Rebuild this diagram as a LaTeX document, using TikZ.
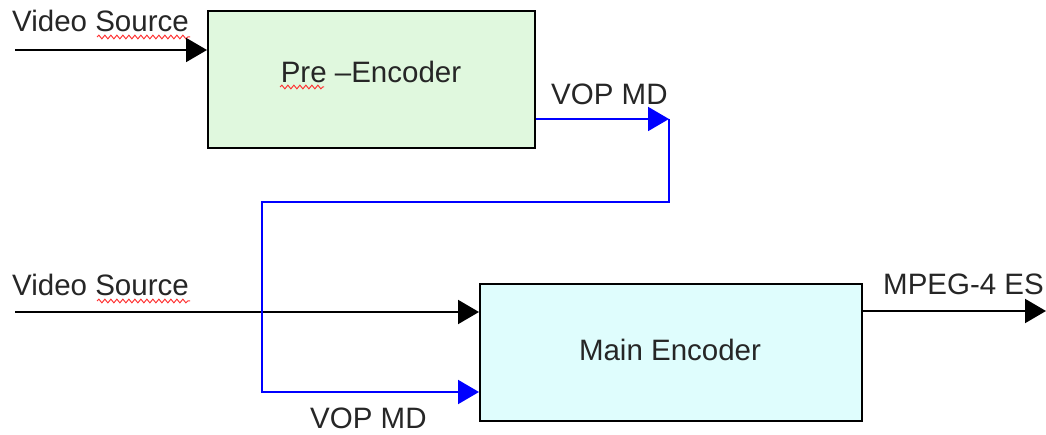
\documentclass[tikz,border=0pt]{standalone}
\usepackage{fontspec}
\setmainfont{Liberation Sans}
\usetikzlibrary{arrows.meta,decorations.pathmorphing}
\definecolor{pregreen}{HTML}{E0F8DE}
\definecolor{maincyan}{HTML}{DFFDFD}
\definecolor{vopblue}{HTML}{0000FF}
\tikzset{
  blockbox/.style={draw=black, line width=2pt, inner sep=0pt, anchor=north west},
  lbl/.style={inner sep=0pt, anchor=base west, font=\fontsize{29.5}{35}\selectfont, text=black!85},
  sigline/.style={line width=2pt, -{Triangle[length=21pt,width=24pt]}},
  vopline/.style={line width=2pt, draw=vopblue},
  voparrow/.style={vopline, -{Triangle[length=21pt,width=24pt]}, vopblue},
  squiggle/.style={draw=red!80, line width=1pt, decorate, decoration={snake, amplitude=1.8pt, segment length=6pt}}
}
\begin{document}
\begin{tikzpicture}[x=1pt,y=-1pt]
\useasboundingbox (0,0) rectangle (1046,435);
% boxes
\node[blockbox, fill=pregreen, minimum width=327pt, minimum height=137pt] (pre) at (207,10) {};
\node[blockbox, fill=maincyan, minimum width=382pt, minimum height=137pt] (main) at (479,283) {};
\node[lbl, anchor=base] (pretext) at (371,83) {Pre –Encoder};
\node[lbl, anchor=base] (maintext) at (670,360) {Main Encoder};
% labels
\node[lbl] (vs1) at (12,32) {Video Source};
\node[lbl] (vs2) at (12,296) {Video Source};
\node[lbl] (vop1) at (551,105) {VOP MD};
\node[lbl] (vop2) at (310,428) {VOP MD};
\node[lbl] (mpeg) at (883,295) {MPEG-4 ES};
% spell-check squiggles
\draw[squiggle] (97,37) -- (190,37);
\draw[squiggle] (97,301) -- (190,301);
\draw[squiggle] (280,87) -- (324,87);
% coordinates
\coordinate (in1) at (15,50);
\coordinate (in2) at (15,312);
\coordinate (out) at (1046,311);
\coordinate (vopend) at (669,119);
\coordinate (c1) at (669,202);
\coordinate (c2) at (262,202);
\coordinate (c3) at (262,392);
% connectors
\draw[sigline] (in1) -- (in1 -| pre.west);
\draw[sigline] (in2) -- (in2 -| main.west);
\draw[sigline] (out -| main.east) -- (out);
\draw[voparrow] (vopend -| pre.east) -- (vopend);
\draw[voparrow, line join=miter] (vopend) -- (c1) -- (c2) -- (c3) -- (c3 -| main.west);
\end{tikzpicture}
\end{document}
